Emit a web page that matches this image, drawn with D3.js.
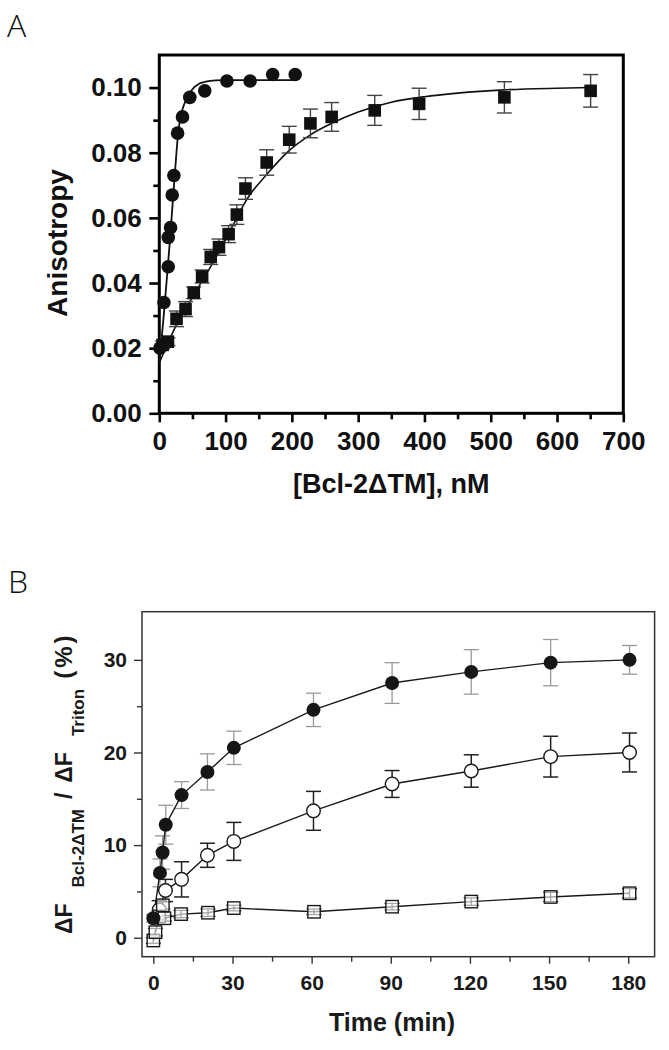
<!DOCTYPE html>
<html><head><meta charset="utf-8">
<script src="https://cdn.jsdelivr.net/npm/d3@7"></script>
<style>
html,body{margin:0;padding:0;background:#fff;}
svg{display:block;font-family:"Liberation Sans",Arial,sans-serif;}
</style></head>
<body>
<svg id="c" width="669" height="1050"></svg>
<script>
// ---------- Panel A data ----------
const aCircleX = [1, 7, 13.5, 13.5, 17, 19.5, 22, 27.6, 35, 46, 68.6, 102, 137, 171, 205];
const aCircleY = [0.020, 0.034, 0.045, 0.054, 0.057, 0.067, 0.073, 0.086, 0.091, 0.097, 0.099, 0.102, 0.102, 0.104, 0.104];
const aSquareX = [5, 13, 26, 39.6, 52, 64.6, 77.6, 90, 104.6, 117, 130, 162, 196, 228, 260, 325, 392, 520.6, 650.7];
const aSquareY = [0.021, 0.022, 0.029, 0.032, 0.037, 0.042, 0.048, 0.051, 0.055, 0.061, 0.069, 0.077, 0.084, 0.089, 0.091, 0.093, 0.095, 0.097, 0.099];
const aSquareErr = [0.0012, 0.0012, 0.0024, 0.0023, 0.0018, 0.002, 0.0023, 0.0025, 0.0026, 0.003, 0.0033, 0.0039, 0.0041, 0.0044, 0.0044, 0.0046, 0.0048, 0.0048, 0.005];
const aCircleFitX = [0, 4, 8, 12, 16, 20, 24, 28, 32, 36, 40, 45, 50, 60, 70, 85, 100, 150, 205];
const aCircleFitY = [0.016, 0.024, 0.033, 0.043, 0.053, 0.064, 0.075, 0.085, 0.091, 0.094, 0.096, 0.098, 0.0995, 0.1012, 0.1018, 0.1022, 0.1023, 0.1023, 0.1023];
const aSquareFitX = [0, 13, 26, 39, 52, 65, 78, 91, 104, 117, 130, 162, 195, 228, 260, 300, 350, 400, 450, 520, 600, 650];
const aSquareFitY = [0.0155, 0.0215, 0.0272, 0.032, 0.0362, 0.0408, 0.0452, 0.0500, 0.0550, 0.0600, 0.0650, 0.0733, 0.0805, 0.0855, 0.0890, 0.0925, 0.0955, 0.0972, 0.0983, 0.0993, 0.0998, 0.1000];
const aXTicks = [0, 100, 200, 300, 400, 500, 600, 700];
const aXMinor = [50, 150, 250, 350, 450, 550, 650];
const aYTicks = [0, 0.02, 0.04, 0.06, 0.08, 0.10];
const aYMinor = [0.01, 0.03, 0.05, 0.07, 0.09];

// ---------- Panel B data ----------
const bTimeFilled = [0, 2.5, 3.5, 4.7, 10.7, 20.5, 30.5, 60.7, 90.5, 120.5, 150.6, 180.5];
const bFilled = [2.1, 7.0, 9.2, 12.2, 15.4, 17.9, 20.5, 24.6, 27.5, 28.7, 29.7, 30.0];
const bFilledErr = [0.4, 1.5, 1.8, 2.1, 1.45, 1.95, 1.8, 1.8, 2.2, 2.4, 2.5, 1.55];
const bTimeOpen = [2.2, 4.6, 10.7, 20.5, 30.5, 60.7, 90.5, 120.5, 150.6, 180.5];
const bOpen = [3.0, 5.1, 6.3, 8.9, 10.4, 13.7, 16.6, 18.0, 19.55, 20.0];
const bOpenErr = [1.0, 1.2, 1.9, 1.3, 2.05, 2.1, 1.45, 1.75, 2.2, 2.1];
const bTimeSquare = [0, 0.8, 2.2, 3.6, 4.2, 10.5, 20.7, 30.5, 60.9, 90.5, 120.5, 150.6, 180.5];
const bSquare = [-0.3, 0.6, 2.3, 3.5, 2.1, 2.55, 2.7, 3.2, 2.8, 3.35, 3.9, 4.4, 4.8];
const bSquareErr = [0.3, 0.4, 0.5, 0.4, 0.3, 0.4, 0.4, 0.3, 0.3, 0.35, 0.4, 0.5, 0.5];
const bXTicks = [0, 30, 60, 90, 120, 150, 180];
const bXMinor = [15, 45, 75, 105, 135, 165];
const bYTicks = [0, 10, 20, 30];
const bYMinor = [5, 15, 25];

const svg = d3.select("#c");
const zip = (xs, ys, es) => xs.map((x, i) => ({x, y: ys[i], e: es ? es[i] : 0}));

// ================= Panel A =================
const xA = d3.scaleLinear().domain([0, 700]).range([159.3, 623.3]);
const yA = d3.scaleLinear().domain([0, 0.11]).range([413.3, 55]);
const gA = svg.append("g");

svg.append("text").attr("x", 7).attr("y", 37).attr("font-size", 32)
  .attr("font-family", "'Open Sans','Liberation Sans',sans-serif").attr("font-weight", 300).attr("fill", "#111").text("A");

const axA_b = gA.append("g").attr("transform", `translate(0,${yA(0)})`)
  .call(d3.axisBottom(xA).tickValues(aXTicks).tickSize(9).tickPadding(9.5).tickFormat(d3.format("d")));
const axA_bm = gA.append("g").attr("transform", `translate(0,${yA(0)})`)
  .call(d3.axisBottom(xA).tickValues(aXMinor).tickSize(6).tickFormat(""));
const axA_l = gA.append("g").attr("transform", `translate(${xA(0)},0)`)
  .call(d3.axisLeft(yA).tickValues(aYTicks).tickSize(10).tickPadding(7.5).tickFormat(d3.format(".2f")));
const axA_lm = gA.append("g").attr("transform", `translate(${xA(0)},0)`)
  .call(d3.axisLeft(yA).tickValues(aYMinor).tickSize(6).tickFormat(""));
[axA_b, axA_bm, axA_l, axA_lm].forEach(a => {
  a.select(".domain").remove();
  a.selectAll(".tick line").attr("stroke", "#000").attr("stroke-width", 2.6);
  a.selectAll("text").attr("font-size", 26).attr("font-weight", "bold").attr("fill", "#111")
    .attr("font-family", "'Liberation Sans',Arial,sans-serif");
});
gA.append("rect").attr("x", xA(0)).attr("y", yA(0.11)).attr("width", xA(700) - xA(0)).attr("height", yA(0) - yA(0.11))
  .attr("fill", "none").attr("stroke", "#000").attr("stroke-width", 3);

gA.append("text").attr("x", (xA(0) + xA(700)) / 2).attr("y", 493).attr("text-anchor", "middle")
  .attr("font-size", 27).attr("font-weight", "bold").attr("fill", "#111").text("[Bcl-2\u0394TM], nM");
gA.append("text").attr("transform", "translate(67,243) rotate(-90)").attr("text-anchor", "middle")
  .attr("font-size", 28).attr("font-weight", "bold").attr("fill", "#111").text("Anisotropy");

const lineA = d3.line().x(d => xA(d.x)).y(d => yA(d.y)).curve(d3.curveMonotoneX);
gA.append("path").datum(zip(aSquareFitX, aSquareFitY)).attr("d", lineA)
  .attr("fill", "none").attr("stroke", "#111").attr("stroke-width", 1.6);
gA.append("path").datum(zip(aCircleFitX, aCircleFitY)).attr("d", lineA)
  .attr("fill", "none").attr("stroke", "#111").attr("stroke-width", 1.8);

const sqA = zip(aSquareX, aSquareY, aSquareErr);
const ebA = gA.append("g").attr("stroke", "#444").attr("stroke-width", 1.4);
sqA.forEach(d => {
  const x = xA(d.x), y1 = yA(d.y - d.e), y2 = yA(d.y + d.e);
  ebA.append("line").attr("x1", x).attr("x2", x).attr("y1", y1).attr("y2", y2);
  ebA.append("line").attr("x1", x - 7.5).attr("x2", x + 7.5).attr("y1", y1).attr("y2", y1);
  ebA.append("line").attr("x1", x - 7.5).attr("x2", x + 7.5).attr("y1", y2).attr("y2", y2);
});
gA.append("g").selectAll("rect").data(sqA).join("rect")
  .attr("x", d => xA(d.x) - 6.3).attr("y", d => yA(d.y) - 6.3).attr("width", 12.6).attr("height", 12.6).attr("fill", "#111");
gA.append("g").selectAll("circle").data(zip(aCircleX, aCircleY)).join("circle")
  .attr("cx", d => xA(d.x)).attr("cy", d => yA(d.y)).attr("r", 6.8).attr("fill", "#111");

// ================= Panel B =================
const xB = d3.scaleLinear().domain([-4.3, 190]).range([142, 654.6]);
const yB = d3.scaleLinear().domain([-2.05, 35.2]).range([956.7, 611.7]);
const gB = svg.append("g");

svg.append("text").attr("x", 8).attr("y", 593).attr("font-size", 32)
  .attr("font-family", "'Open Sans','Liberation Sans',sans-serif").attr("font-weight", 300).attr("fill", "#111").text("B");

const axB_b = gB.append("g").attr("transform", `translate(0,956.7)`)
  .call(d3.axisBottom(xB).tickValues(bXTicks).tickSize(7).tickPadding(11.5).tickFormat(d3.format("d")));
const axB_bm = gB.append("g").attr("transform", `translate(0,956.7)`)
  .call(d3.axisBottom(xB).tickValues(bXMinor).tickSize(5).tickFormat(""));
const axB_l = gB.append("g").attr("transform", `translate(142,0)`)
  .call(d3.axisLeft(yB).tickValues(bYTicks).tickSize(8).tickPadding(7).tickFormat(d3.format("d")));
const axB_lm = gB.append("g").attr("transform", `translate(142,0)`)
  .call(d3.axisLeft(yB).tickValues(bYMinor).tickSize(5).tickFormat(""));
[axB_b, axB_bm, axB_l, axB_lm].forEach(a => {
  a.select(".domain").remove();
  a.selectAll(".tick line").attr("stroke", "#333").attr("stroke-width", 1.4);
  a.selectAll("text").attr("font-size", 21).attr("font-weight", "bold").attr("fill", "#1a1a1a")
    .attr("font-family", "'Liberation Sans',Arial,sans-serif");
});
gB.append("rect").attr("x", 142).attr("y", 611.7).attr("width", 654.6 - 142).attr("height", 956.7 - 611.7)
  .attr("fill", "none").attr("stroke", "#333").attr("stroke-width", 1.5);

gB.append("text").attr("x", 392).attr("y", 1031).attr("text-anchor", "middle")
  .attr("font-size", 25).attr("font-weight", "bold").attr("fill", "#1a1a1a").text("Time (min)");
const yl = gB.append("text").attr("transform", "translate(72,934) rotate(-90)")
  .attr("font-weight", "bold").attr("fill", "#1a1a1a");
yl.append("tspan").attr("font-size", 23).text("\u0394F");
yl.append("tspan").attr("font-size", 17).attr("dx", 16).attr("dy", 11.5).text("Bcl-2\u0394TM");
yl.append("tspan").attr("font-size", 23).attr("dx", 10).attr("dy", -11.5).text("/");
yl.append("tspan").attr("font-size", 23).attr("dx", 10).text("\u0394F");
yl.append("tspan").attr("font-size", 17).attr("dx", 16).attr("dy", 11.5).text("Triton");
yl.append("tspan").attr("font-size", 24).attr("dx", 10).attr("dy", -11.5).attr("letter-spacing", 3).text("(%)");

const lineB = d3.line().x(d => xB(d.x)).y(d => yB(d.y));
const filled = zip(bTimeFilled, bFilled, bFilledErr);
const open = zip(bTimeOpen, bOpen, bOpenErr);
const squares = zip(bTimeSquare, bSquare, bSquareErr);

function errBars(data, color, w) {
  const g = gB.append("g").attr("stroke", color).attr("stroke-width", w);
  data.forEach(d => {
    const x = xB(d.x), y1 = yB(d.y - d.e), y2 = yB(d.y + d.e);
    g.append("line").attr("x1", x).attr("x2", x).attr("y1", y1).attr("y2", y2);
    g.append("line").attr("x1", x - 7.5).attr("x2", x + 7.5).attr("y1", y1).attr("y2", y1);
    g.append("line").attr("x1", x - 7.5).attr("x2", x + 7.5).attr("y1", y2).attr("y2", y2);
  });
}
errBars(filled, "#9a9a9a", 1.3);
errBars(open, "#222", 1.5);
errBars(squares, "#222", 1.3);

[filled, open, squares].forEach(s => gB.append("path").datum(s).attr("d", lineB)
  .attr("fill", "none").attr("stroke", "#1a1a1a").attr("stroke-width", 1.4));

gB.append("g").selectAll("circle").data(open).join("circle")
  .attr("cx", d => xB(d.x)).attr("cy", d => yB(d.y)).attr("r", 6.8)
  .attr("fill", "#fff").attr("stroke", "#1a1a1a").attr("stroke-width", 1.4);
gB.append("g").selectAll("rect").data(squares).join("rect")
  .attr("x", d => xB(d.x) - 6.2).attr("y", d => yB(d.y) - 6.2).attr("width", 12.4).attr("height", 12.4)
  .attr("fill", "#fff").attr("fill-opacity", 0.6).attr("stroke", "#1a1a1a").attr("stroke-width", 1.4);
gB.append("g").selectAll("circle").data(filled).join("circle")
  .attr("cx", d => xB(d.x)).attr("cy", d => yB(d.y)).attr("r", 7)
  .attr("fill", "#161616");
</script>
</body></html>
